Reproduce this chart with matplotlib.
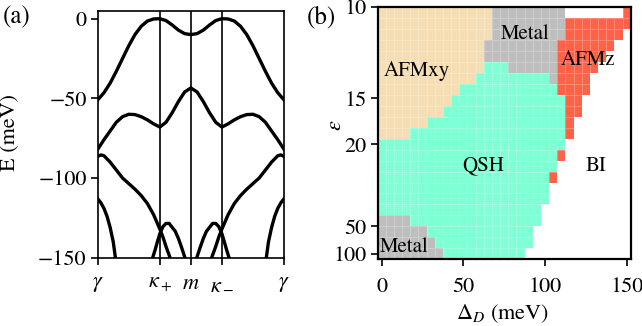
import numpy as np
import matplotlib
matplotlib.use("Agg")
import matplotlib.pyplot as plt
from matplotlib.colors import ListedColormap

plt.rcParams["font.family"] = ["STIXGeneral", "DejaVu Serif"]
plt.rcParams["mathtext.fontset"] = "stix"
plt.rcParams["font.size"] = 16
plt.rcParams["axes.linewidth"] = 1.2

# ---- (a) band structure, path gamma - kappa+ - m - kappa- - gamma (lengths 2:1:1:2)
k_ticks = [0, 2, 3, 4, 6]
k_labels = [r"$\gamma$", r"$\kappa_+$", r"$m$", r"$\kappa_-$", r"$\gamma$"]

k_path = np.round(np.arange(0, 6.01, 0.2), 1)
band1 = [-51, -46.5, -40.5, -33, -25, -17, -10, -4.8, -1.5, -0.2, 0, -1.2, -4, -7.2, -9.4, -10,
         -9.4, -7.2, -4, -1.2, 0, -0.2, -1.5, -4.8, -10, -17, -25, -33, -40.5, -46.5, -51]
band2 = [-82, -76, -70.5, -65, -61.5, -60, -60.2, -61.5, -63.5, -66, -68, -65, -59, -52, -46, -43.5,
         -46, -52, -59, -65, -68, -66, -63.5, -61.5, -60.2, -60, -61.5, -65, -70.5, -76, -82]

band3_left_k = [0, 0.1, 0.2, 0.4, 0.6, 0.8, 1.0, 1.2, 1.4, 1.6, 1.8, 2.0, 2.1, 2.2, 2.33]
band3_left_E = [-86.5, -85.5, -86, -90, -95, -100, -103.5, -107, -111, -116, -123, -132, -137, -143, -150]
band3_right_k = [3.67, 3.8, 3.9, 4.0, 4.2, 4.4, 4.6, 4.8, 5.0, 5.2, 5.4, 5.6, 5.8, 5.9, 6.0]
band3_right_E = [-150, -143, -137, -132, -123, -116, -111, -107, -103.5, -100, -95, -90, -86, -85.5, -86.5]

band4_left_k = [0, 0.1, 0.2, 0.3, 0.4, 0.5, 0.57]
band4_left_E = [-113, -115.5, -119, -124, -131, -140, -150]
band4_right_k = [5.43, 5.5, 5.6, 5.7, 5.8, 5.9, 6.0]
band4_right_E = [-150, -140, -131, -124, -119, -115.5, -113]

band5_left_k = [1.77, 1.85, 1.93, 2.0, 2.1, 2.2, 2.3, 2.4, 2.5, 2.6, 2.7, 2.81]
band5_left_E = [-150, -145, -139.5, -135, -130.5, -128.5, -128.5, -131, -133.5, -138, -143.5, -150]
band5_right_k = [3.19, 3.3, 3.4, 3.5, 3.6, 3.7, 3.8, 3.9, 4.0, 4.07, 4.15, 4.23]
band5_right_E = [-150, -143.5, -138, -133.5, -131, -128.5, -128.5, -130.5, -135, -139.5, -145, -150]

# ---- (b) phase diagram, rows from eps=10 (top) downward, run-length coded per row
delta_vals = np.arange(0, 151, 5)                          # Delta_D (meV), 31 columns
inv_eps = np.round(np.arange(0.098, 0.0095, -0.004), 3)    # 1/eps, 23 rows
phase_rows = [
    "A14 M9 B7 Z1",
    "A14 M9 Z8",
    "A14 M9 Z7 B1",
    "A13 M9 Z7 B2",
    "A13 M9 Z6 B3",
    "A13 Q3 M6 Z5 B4",
    "A12 Q9 M1 Z4 B5",
    "A10 Q12 Z4 B5",
    "A9 Q14 Z2 B6",
    "A8 Q15 Z2 B6",
    "A6 Q17 Z1 B7",
    "A4 Q19 Z1 B7",
    "Q23 B8",
    "Q22 Z1 B8",
    "Q22 B9",
    "Q21 Z1 B9",
    "Q21 B10",
    "Q21 B10",
    "Q20 B11",
    "M4 Q16 B11",
    "M6 Q13 B12",
    "M7 Q12 B12",
    "M8 Q10 B13",
]
phase_codes = ["A", "M", "Q", "Z", "B"]
phase_colors = ["#f5deb3", "#bebebe", "#7fffd4", "#ff6347", "#ffffff"]
phase_labels = ["AFMxy", "Metal", "QSH", "AFMz", "BI", "Metal"]
label_delta = [21.5, 88, 62, 126, 131, 14]
label_inv_eps = [0.0767, 0.0902, 0.0424, 0.0807, 0.0421, 0.0126]

grid = []
for row in phase_rows:
    cells = []
    for item in row.split():
        cells += [phase_codes.index(item[0])] * int(item[1:])
    assert len(cells) == len(delta_vals)
    grid.append(cells)
grid = np.array(grid)

fig = plt.figure(figsize=(6.42, 3.26), dpi=100)

# (a)
ax1 = fig.add_axes([0.1522, 0.2095, 0.2902, 0.7577])
lw = 2.4
ax1.plot(k_path, band1, color="k", lw=lw)
ax1.plot(k_path, band2, color="k", lw=lw)
for ks, es in [(band3_left_k, band3_left_E), (band3_right_k, band3_right_E),
               (band4_left_k, band4_left_E), (band4_right_k, band4_right_E),
               (band5_left_k, band5_left_E), (band5_right_k, band5_right_E)]:
    ax1.plot(ks, es, color="k", lw=lw)
for k in k_ticks[1:-1]:
    ax1.axvline(k, color="k", lw=1.2)
ax1.set_xlim(0, 6)
ax1.set_ylim(-150, 5)
ax1.set_xticks(k_ticks)
ax1.set_xticklabels(k_labels)
ax1.set_yticks([0, -50, -100, -150])
ax1.set_ylabel("E (meV)")
ax1.yaxis.set_label_coords(-0.417, 0.505)
ax1.tick_params(direction="out", length=5, width=1.2, pad=3)
ax1.tick_params(axis="x", pad=7)

# (b)
ax2 = fig.add_axes([0.5882, 0.2046, 0.3944, 0.7739])
x_edges = np.append(delta_vals - 2.5, delta_vals[-1] + 2.5)
y_edges = np.append(inv_eps + 0.002, inv_eps[-1] - 0.002)
ax2.pcolormesh(x_edges, y_edges, grid, cmap=ListedColormap(phase_colors),
               vmin=-0.5, vmax=4.5, edgecolors=(1, 1, 1, 0.25), linewidth=0.4)
for lab, dx, ie in zip(phase_labels, label_delta, label_inv_eps):
    ax2.text(dx, ie, lab, ha="center", va="center", fontsize=15)
ax2.set_xlim(x_edges[0], x_edges[-1])
ax2.set_ylim(y_edges[-1], y_edges[0])
ax2.set_xticks([0, 50, 100, 150])
eps_ticks = [10, 15, 20, 50, 100]
ax2.set_yticks([1 / e for e in eps_ticks])
ax2.set_yticklabels([str(e) for e in eps_ticks])
ax2.set_xlabel(r"$\Delta_D$ (meV)")
ax2.xaxis.set_label_coords(0.495, -0.172)
ax2.set_ylabel(r"$\epsilon$")
ax2.yaxis.set_label_coords(-0.125, 0.53)
ax2.tick_params(direction="out", length=5, width=1.2, pad=3)
ax2.tick_params(axis="x", pad=8)
for s in ax2.spines.values():
    s.set_linewidth(1.6)

fig.text(0.004, 0.985, "(a)", ha="left", va="top", fontsize=18)
fig.text(0.478, 0.985, "(b)", ha="left", va="top", fontsize=18)

fig.savefig("out.png", dpi=100)
